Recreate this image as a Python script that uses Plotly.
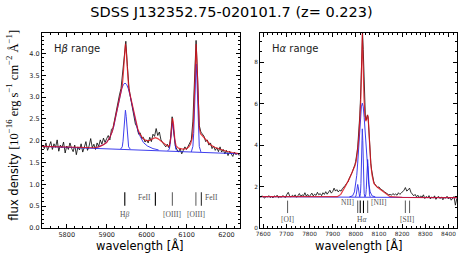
import numpy as np
import plotly.graph_objects as go

TITLE = "SDSS J132352.75-020101.7 (z= 0.223)"

# ---------------- H-beta panel ----------------
hb_xrange = [5738, 6234]
hb_yrange = [0, 4.47]
hb_wave = np.arange(5740, 6233, 4)
hb_flux = [
    1.90, 1.82, 1.95, 1.78, 1.88, 1.98, 1.80, 1.93, 1.85, 2.02,
    1.76, 1.90, 1.84, 1.97, 1.72, 1.88, 1.80, 1.95, 1.83, 1.75,
    1.90, 1.68, 1.86, 1.79, 1.93, 1.74, 1.85, 1.98, 1.78, 1.88,
    2.05, 1.84, 1.92, 1.80, 1.95, 1.87, 2.02, 1.92, 2.06, 1.96,
    2.05, 2.12, 2.02, 2.26, 2.30, 2.50, 2.63, 2.85, 3.05, 3.20,
    3.55, 4.00, 4.28, 3.70, 3.20, 2.98, 2.78, 2.62, 2.38, 2.32,
    2.15, 2.18, 2.05, 2.08, 1.97, 2.02, 1.95, 2.08, 1.98, 2.15,
    2.10, 2.28, 2.12, 2.20, 2.02, 1.96, 1.90, 1.86, 1.92, 1.84,
    2.05, 2.55, 2.20, 1.88, 1.80, 1.74, 1.82, 1.70, 1.78, 1.86,
    1.80, 1.88, 1.94, 2.02, 2.45, 3.60, 4.30, 3.40, 2.35, 2.20,
    2.15, 2.10, 1.98, 2.02, 1.90, 1.95, 1.82, 1.88, 1.78, 1.84,
    1.75, 1.86, 1.74, 1.80, 1.70, 1.78, 1.66, 1.76, 1.70, 1.64,
    1.74, 1.68, 1.72, 1.66,
]
hb_model_wave = [5738, 5800, 5850, 5870, 5880, 5890, 5900, 5908, 5914, 5918,
                 5922, 5926, 5930, 5934, 5937, 5939, 5941, 5943, 5945, 5947,
                 5949, 5951, 5953, 5955, 5958, 5962, 5966, 5970, 5974, 5978,
                 5984, 5992, 6000, 6008, 6016, 6022, 6028, 6036, 6044, 6052,
                 6057, 6059, 6061, 6063, 6065, 6067, 6069, 6071, 6074, 6080,
                 6090, 6100, 6106, 6110, 6114, 6116, 6118, 6120, 6122, 6124,
                 6126, 6128, 6130, 6132, 6135, 6140, 6146, 6152, 6160, 6170,
                 6185, 6200, 6215, 6234]
hb_model_flux = [1.87, 1.85, 1.84, 1.84, 1.86, 1.90, 1.96, 2.08, 2.21, 2.34,
                 2.53, 2.71, 2.90, 3.07, 3.18, 3.26, 3.45, 3.75, 4.06, 4.22,
                 4.06, 3.73, 3.42, 3.23, 3.08, 2.91, 2.73, 2.56, 2.39, 2.27,
                 2.14, 2.04, 2.00, 2.01, 2.05, 2.07, 2.05, 2.00, 1.93, 1.88,
                 1.88, 1.96, 2.13, 2.38, 2.52, 2.42, 2.18, 2.00, 1.88, 1.83,
                 1.81, 1.82, 1.86, 1.92, 2.05, 2.20, 2.55, 3.15, 3.85, 4.22,
                 3.85, 3.20, 2.62, 2.30, 2.16, 2.11, 2.05, 1.97, 1.91, 1.85,
                 1.80, 1.76, 1.73, 1.70]
hb_cont_wave = [5738, 6234]
hb_cont_flux = [1.87, 1.70]
hb_broad_wave = [5876, 5890, 5900, 5908, 5914, 5918, 5922, 5926, 5930, 5934,
                 5938, 5942, 5946, 5950, 5954, 5958, 5962, 5966, 5970, 5974,
                 5978, 5984, 5992, 6002, 6016, 6030]
hb_broad_flux = [1.85, 1.90, 1.96, 2.08, 2.21, 2.33, 2.52, 2.70, 2.89, 3.06,
                 3.20, 3.29, 3.32, 3.29, 3.20, 3.06, 2.89, 2.70, 2.52, 2.34,
                 2.23, 2.10, 1.96, 1.88, 1.82, 1.79]
hb_narrow_wave = [5935, 5939, 5941, 5943, 5945, 5947, 5949, 5951, 5953, 5955, 5959]
hb_narrow_flux = [1.81, 1.86, 1.99, 2.25, 2.55, 2.70, 2.55, 2.25, 1.99, 1.86, 1.81]
oiii4959_wave = [6053, 6057, 6059, 6061, 6063, 6065, 6067, 6069, 6071, 6073, 6077]
oiii4959_flux = [1.77, 1.81, 1.91, 2.09, 2.32, 2.42, 2.32, 2.09, 1.91, 1.81, 1.77]
oiii5007_wave = [6112, 6116, 6118, 6120, 6122, 6124, 6126, 6128, 6130, 6132, 6136]
oiii5007_flux = [1.745, 1.87, 2.17, 2.75, 3.44, 3.76, 3.44, 2.75, 2.17, 1.87, 1.745]

hb_lines_wave = [5945.4, 6022.0, 6064.6, 6123.5, 6137.2]
hb_lines_color = ["#000000", "#000000", "#666666", "#666666", "#333333"]
hb_marker_span = [0.51, 0.82]
hb_labels = [("H<i>β</i>", 5945.4, 0.32, "center"),
             ("FeII", 6017.0, 0.70, "right"),
             ("[OIII]", 6064.6, 0.32, "center"),
             ("[OIII]", 6123.5, 0.32, "center"),
             ("FeII", 6142.0, 0.70, "left")]

# ---------------- H-alpha panel ----------------
ha_xrange = [7586, 8437]
ha_yrange = [0, 9.4]
ha_wave = np.concatenate([np.arange(7588, 7985, 6), np.arange(7987, 8084, 3),
                          np.arange(8088, 8437, 6)])
ha_flux = [
    # 7588 - 7984 (step 6)
    1.48, 1.55, 1.50, 1.44, 1.53, 1.49, 1.56, 1.47, 1.52, 1.45,
    1.55, 1.50, 1.58, 1.46, 1.52, 1.48, 1.56, 1.50, 1.47, 1.62,
    1.72, 1.55, 1.49, 1.58, 1.52, 1.60, 1.48, 1.56, 1.66, 1.52,
    1.60, 1.55, 1.70, 1.54, 1.62, 1.50, 1.58, 1.68, 1.55, 1.63,
    1.57, 1.72, 1.60, 1.66, 1.56, 1.70, 1.62, 1.75, 1.63, 1.70,
    1.82, 1.68, 1.76, 1.92, 1.78, 1.85, 1.74, 1.82, 1.78, 1.90,
    1.96, 2.05, 2.15, 2.22, 2.40, 2.52, 2.68,
    # 7987 - 8083 (step 3)
    2.78, 2.85, 2.95, 3.05, 3.20, 3.35, 3.62, 3.90, 4.30, 4.75,
    5.40, 6.20, 7.50, 8.80, 9.40, 8.60, 7.20, 6.10, 5.40, 5.20,
    5.30, 5.45, 5.35, 4.70, 4.00, 3.55, 3.10, 2.80, 2.55, 2.38,
    2.25, 2.15, 2.08,
    # 8088 - 8436 (step 6)
    2.02, 1.96, 1.98, 1.88, 1.85, 1.80, 1.74, 1.70, 1.66,
    1.60, 1.62, 1.58, 1.66, 1.60, 1.64, 1.58, 1.70, 1.62,
    1.68, 1.75, 1.82, 1.95, 1.78, 1.84, 1.92, 1.72, 1.62,
    1.55, 1.62, 1.50, 1.58, 1.46, 1.55, 1.48, 1.60, 1.42,
    1.52, 1.46, 1.56, 1.40, 1.50, 1.44, 1.55, 1.38, 1.48,
    1.52, 1.42, 1.50, 1.36, 1.47, 1.44, 1.53, 1.40, 1.48,
    1.34, 1.46, 1.52, 1.10, 1.42,
]
ha_model_wave = [7586, 7700, 7800, 7900, 7920, 7935, 7946, 7958, 7972, 7986,
                 7996, 8002, 8006, 8010, 8014, 8018, 8021, 8024, 8026, 8028,
                 8030, 8032, 8035, 8039, 8043, 8047, 8051, 8054, 8057, 8060,
                 8064, 8070, 8078, 8093, 8114, 8128, 8138, 8148, 8200, 8300,
                 8437]
ha_model_flux = [1.51, 1.50, 1.50, 1.50, 1.51, 1.62, 1.82, 2.08, 2.38, 2.72,
                 3.00, 3.25, 3.55, 4.00, 4.55, 5.25, 6.10, 7.30, 8.40, 9.38,
                 8.60, 7.40, 6.30, 5.45, 5.15, 5.25, 5.45, 5.20, 4.50, 3.85,
                 3.15, 2.55, 2.15, 1.96, 1.78, 1.66, 1.57, 1.51, 1.48, 1.47,
                 1.46]
ha_cont_wave = [7586, 8437]
ha_cont_flux = [1.51, 1.46]
ha_broad_wave = [7972, 7986, 7994, 8000, 8004, 8008, 8012, 8016, 8020, 8024,
                 8028, 8032, 8036, 8040, 8044, 8048, 8052, 8056, 8062, 8070, 8084]
ha_broad_flux = [1.50, 1.55, 1.74, 2.11, 2.54, 3.13, 3.85, 4.63, 5.34, 5.84,
                 6.02, 5.84, 5.34, 4.63, 3.85, 3.13, 2.54, 2.11, 1.74, 1.55, 1.50]
ha_narrow_wave = [8017, 8020, 8022, 8024, 8026, 8028, 8030, 8032, 8034, 8036, 8039]
ha_narrow_flux = [1.50, 1.67, 2.13, 3.07, 4.23, 4.78, 4.23, 3.07, 2.13, 1.67, 1.50]
nii6548_wave = [7997, 8000, 8002, 8004, 8006, 8008, 8010, 8012, 8014, 8016, 8019]
nii6548_flux = [1.50, 1.53, 1.62, 1.79, 2.00, 2.10, 2.00, 1.79, 1.62, 1.53, 1.50]
nii6583_wave = [8040, 8043, 8045, 8047, 8049, 8051, 8053, 8055, 8057, 8059, 8062]
nii6583_flux = [1.50, 1.60, 1.85, 2.36, 3.00, 3.30, 3.00, 2.36, 1.85, 1.60, 1.50]

ha_lines_wave = [7705, 8008, 8019, 8033, 8051, 8214, 8232]
ha_lines_color = ["#666666", "#666666", "#000000", "#000000", "#666666", "#666666", "#666666"]
ha_marker_span = [0.72, 1.32]
ha_labels = [("[OI]", 7705, 0.40, "center"),
             ("NII]", 8002, 1.22, "right"),
             ("[NII]", 8057, 1.22, "left"),
             ("H<i>α</i>", 8027, 0.40, "center"),
             ("[SII]", 8223, 0.40, "center")]

# ---------------- figure ----------------
fig = go.Figure()


def add_line(x, y, color, width, xa, ya, opacity=1.0):
    fig.add_trace(go.Scatter(x=list(x), y=list(y), mode="lines",
                             line=dict(color=color, width=width),
                             opacity=opacity, xaxis=xa, yaxis=ya,
                             showlegend=False, hoverinfo="skip"))


def add_markers(waves, colors, span, xa, ya):
    for w, c in zip(waves, colors):
        add_line([w, w], span, c, 1.1, xa, ya)


BLUE = "rgb(30,30,235)"
RED = "rgb(225,15,25)"

# H-beta panel
n = min(len(hb_wave), len(hb_flux))
add_line(hb_wave[:n], hb_flux[:n], "black", 0.8, "x", "y")
add_line(hb_cont_wave, hb_cont_flux, BLUE, 1.0, "x", "y", 0.85)
add_line(hb_broad_wave, hb_broad_flux, BLUE, 1.0, "x", "y", 0.85)
add_line(hb_narrow_wave, hb_narrow_flux, BLUE, 1.0, "x", "y", 0.85)
add_line(oiii4959_wave, oiii4959_flux, BLUE, 1.0, "x", "y", 0.85)
add_line(oiii5007_wave, oiii5007_flux, BLUE, 1.0, "x", "y", 0.85)
add_line(hb_model_wave, hb_model_flux, RED, 1.2, "x", "y", 0.8)
add_markers(hb_lines_wave, hb_lines_color, hb_marker_span, "x", "y")

# H-alpha panel
n = min(len(ha_wave), len(ha_flux))
add_line(ha_wave[:n], ha_flux[:n], "black", 0.8, "x2", "y2")
add_line(ha_cont_wave, ha_cont_flux, BLUE, 1.0, "x2", "y2", 0.85)
add_line(ha_broad_wave, ha_broad_flux, BLUE, 1.0, "x2", "y2", 0.85)
add_line(ha_narrow_wave, ha_narrow_flux, BLUE, 1.0, "x2", "y2", 0.85)
add_line(nii6548_wave, nii6548_flux, BLUE, 1.0, "x2", "y2", 0.85)
add_line(nii6583_wave, nii6583_flux, BLUE, 1.0, "x2", "y2", 0.85)
add_line(ha_model_wave, ha_model_flux, RED, 1.2, "x2", "y2", 0.8)
add_markers(ha_lines_wave, ha_lines_color, ha_marker_span, "x2", "y2")

SERIF = "Liberation Serif, DejaVu Serif, serif"
SANS = "DejaVu Sans, Arial, sans-serif"

annotations = []
for text, xpos, ypos, align in hb_labels:
    annotations.append(dict(text=text, x=xpos, y=ypos, xref="x", yref="y",
                            showarrow=False, xanchor=align, yanchor="middle",
                            font=dict(family=SERIF, size=7.5, color="#555555")))
for text, xpos, ypos, align in ha_labels:
    annotations.append(dict(text=text, x=xpos, y=ypos, xref="x2", yref="y2",
                            showarrow=False, xanchor=align, yanchor="middle",
                            font=dict(family=SERIF, size=7.5, color="#555555")))

annotations += [
    dict(text="H<i>β</i> range", x=0.05, y=0.923, xref="x domain", yref="y domain",
         showarrow=False, xanchor="left", yanchor="middle",
         font=dict(family=SANS, size=10, color="#222222")),
    dict(text="H<i>α</i> range", x=0.05, y=0.923, xref="x2 domain", yref="y2 domain",
         showarrow=False, xanchor="left", yanchor="middle",
         font=dict(family=SANS, size=10, color="#222222")),
    dict(text="wavelength [Å]", x=0.236, y=-0.088, xref="paper", yref="paper",
         showarrow=False, xanchor="center", yanchor="middle",
         font=dict(family=SANS, size=11.5, color="black")),
    dict(text="wavelength [Å]", x=0.764, y=-0.088, xref="paper", yref="paper",
         showarrow=False, xanchor="center", yanchor="middle",
         font=dict(family=SANS, size=11.5, color="black")),
    dict(text=("flux density <span style=\"font-family:'Liberation Serif';font-size:12.5px\">"
               "[10<sup>−16</sup> erg s<sup>−1</sup> cm<sup>−2</sup> Å<sup>−1</sup>]</span>"),
         x=-0.0723, y=0.53, xref="paper", yref="paper", textangle=-90,
         showarrow=False, xanchor="center", yanchor="middle",
         font=dict(family=SANS, size=11.5, color="black")),
]

common_axis = dict(showline=True, linecolor="black", linewidth=1, mirror="allticks",
                   ticks="inside", ticklen=4, tickwidth=0.8, tickcolor="black",
                   showgrid=False, zeroline=False, automargin=False)

fig.update_layout(
    width=463, height=255,
    margin=dict(l=42, r=6, t=33, b=27, autoexpand=False),
    paper_bgcolor="white", plot_bgcolor="white",
    title=dict(text=TITLE, x=0.5, xanchor="center", y=1 - 12 / 255, yanchor="middle",
               font=dict(family=SANS, size=14.5, color="black")),
    annotations=annotations,
    xaxis=dict(domain=[0, 0.4771], range=hb_xrange, anchor="y", tick0=5800, dtick=100,
               minor=dict(ticks="inside", ticklen=2, dtick=20, tickcolor="black"),
               tickfont=dict(family=SANS, size=6.5, color="#222222"), **common_axis),
    yaxis=dict(domain=[0, 1], range=hb_yrange, anchor="x", tick0=0, dtick=0.5,
               tickformat=".1f",
               minor=dict(ticks="inside", ticklen=2, dtick=0.1, tickcolor="black"),
               tickfont=dict(family=SANS, size=6.5, color="#222222"), **common_axis),
    xaxis2=dict(domain=[0.5253, 1], range=ha_xrange, anchor="y2", tick0=7600, dtick=100,
                minor=dict(ticks="inside", ticklen=2, dtick=20, tickcolor="black"),
                tickfont=dict(family=SANS, size=5.8, color="#222222"), **common_axis),
    yaxis2=dict(domain=[0, 1], range=ha_yrange, anchor="x2", tick0=0, dtick=2,
                minor=dict(ticks="inside", ticklen=2, dtick=0.5, tickcolor="black"),
                tickfont=dict(family=SANS, size=5.8, color="#222222"), **common_axis),
)

fig.write_html("out.html", config={"displayModeBar": False},
               post_script="document.body.style.margin='0px';document.body.style.overflow='hidden';")
